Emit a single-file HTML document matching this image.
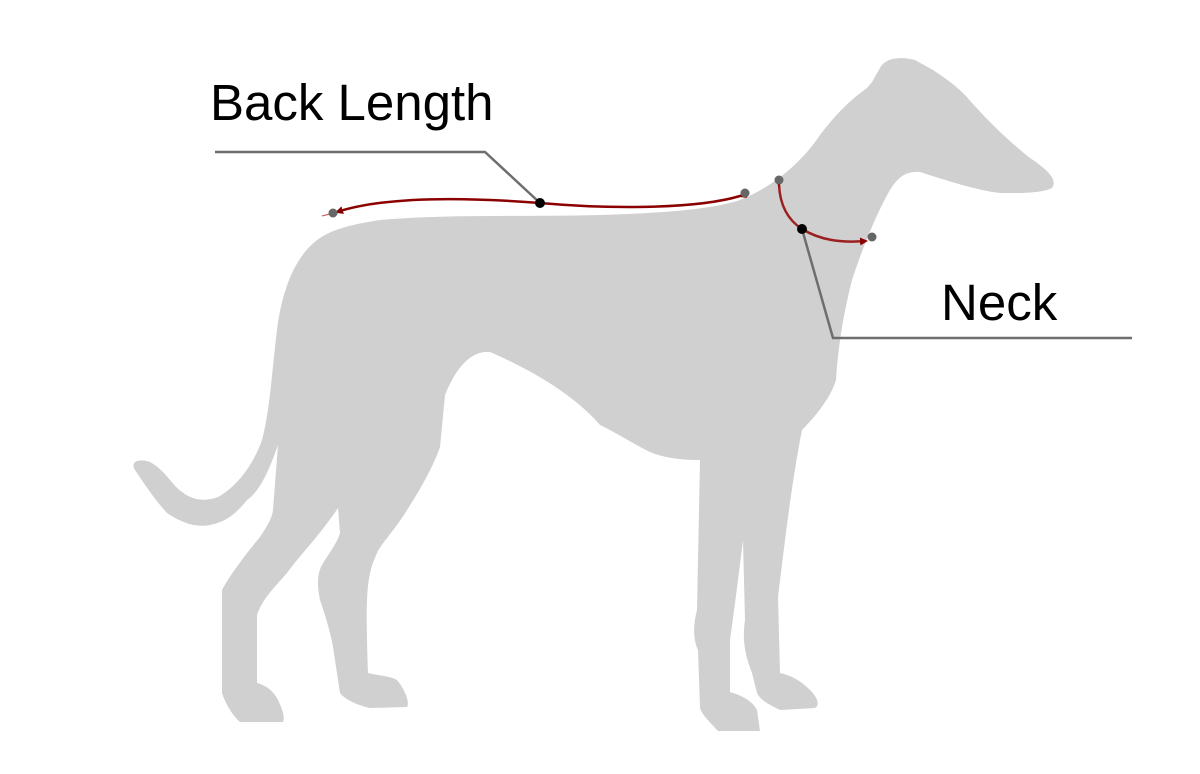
<!DOCTYPE html>
<html><head><meta charset="utf-8"><style>
html,body{margin:0;padding:0;background:#fff;}
svg{display:block;}
text{font-family:"Liberation Sans",sans-serif;}
</style></head><body>
<svg width="1200" height="774" viewBox="0 0 1200 774" xmlns="http://www.w3.org/2000/svg">
<defs>
<marker id="ah" markerWidth="8" markerHeight="8" refX="6" refY="4" orient="auto" markerUnits="userSpaceOnUse">
<path d="M0,0 L8,4 L0,8 Z" fill="#8b0000"/>
</marker>
</defs>
<path fill="#d0d0d0" d="
M 740,200
C 770,188 800,165 820,135
C 835,115 850,100 867,88
L 872,82 L 880,68 C 885,58 900,56 915,60 L 933,70
C 945,78 955,85 965,95
C 985,118 1005,138 1030,158
C 1048,170 1058,180 1052,188
C 1040,194 1015,193 1000,193
C 975,190 945,180 920,172
C 900,170 892,185 882,205
C 872,225 862,250 852,280
C 842,320 838,350 836,380
C 830,400 812,420 802,430
C 792,480 785,540 778,597
L 780,673 C 790,675 800,680 810,690 C 818,698 820,705 815,708
L 780,710 C 770,705 760,700 757,693
L 752,673 C 745,655 742,640 745,620 L 743,540
C 738,580 733,620 730,640 L 730,692
C 740,695 752,700 757,710 L 760,731 L 718,731
C 710,722 702,715 700,708 L 698,650 C 693,640 693,625 697,610
L 700,460
C 680,460 665,458 650,452
C 630,442 615,432 600,425
C 570,390 520,365 490,352
C 470,350 455,370 445,395
L 440,447
C 433,467 420,490 407,510
C 395,530 380,545 377,553
C 367,575 365,590 368,673
C 380,676 390,676 397,680
C 405,690 410,702 407,707
L 370,708 C 360,706 345,700 340,693
L 333,647 C 330,630 325,615 320,600
C 316,580 318,570 325,560
C 333,548 338,540 340,533
L 338,508
C 320,535 300,555 287,573
C 272,590 262,600 257,615
L 257,683 C 265,685 273,690 278,700
C 283,710 285,718 283,722
L 240,722 C 233,716 226,705 222,693
L 222,590 C 230,575 245,555 260,537
C 268,525 272,518 273,510
L 278,445
C 272,462 262,490 247,500
C 235,515 225,522 210,525
C 195,528 180,522 167,513
C 155,500 145,485 135,470
C 130,462 138,458 150,462
C 165,470 172,485 182,492
C 192,500 205,502 218,497
C 240,485 255,460 262,440
C 270,410 272,370 277,330
C 282,290 295,255 320,238
C 335,228 355,224 380,220
C 450,214 520,217 600,215
C 660,213 710,210 740,200 Z"/>
<path d="M 740,196 C 700,208 620,210 540,203 C 450,196 380,198 337,212" fill="none" stroke="#8b0000" stroke-width="2.5" marker-end="url(#ah)" marker-start="url(#ah)"/>
<line x1="330" y1="214" x2="322" y2="216" stroke="#c05050" stroke-width="1"/>
<path d="M 779,185 C 780,205 788,220 802,229 C 820,240 840,243 866,241" fill="none" stroke="#9b2020" stroke-width="2.5" marker-end="url(#ah)" marker-start="url(#ah)"/>
<polyline points="215,152 485,152 540,203" fill="none" stroke="#6e6e6e" stroke-width="2.5"/>
<polyline points="802,229 833,338 1132,338" fill="none" stroke="#6e6e6e" stroke-width="2.5"/>
<circle cx="333" cy="213" r="4.5" fill="#666"/>
<circle cx="745" cy="193" r="4.5" fill="#666"/>
<circle cx="779" cy="180" r="4.5" fill="#666"/>
<circle cx="872" cy="237" r="4.5" fill="#666"/>
<circle cx="540" cy="203" r="5" fill="#000"/>
<circle cx="802" cy="229" r="5" fill="#000"/>
<text x="210" y="120" font-size="51" fill="#000">Back Length</text>
<text x="941" y="320" font-size="51" fill="#000">Neck</text>
</svg>
</body></html>
